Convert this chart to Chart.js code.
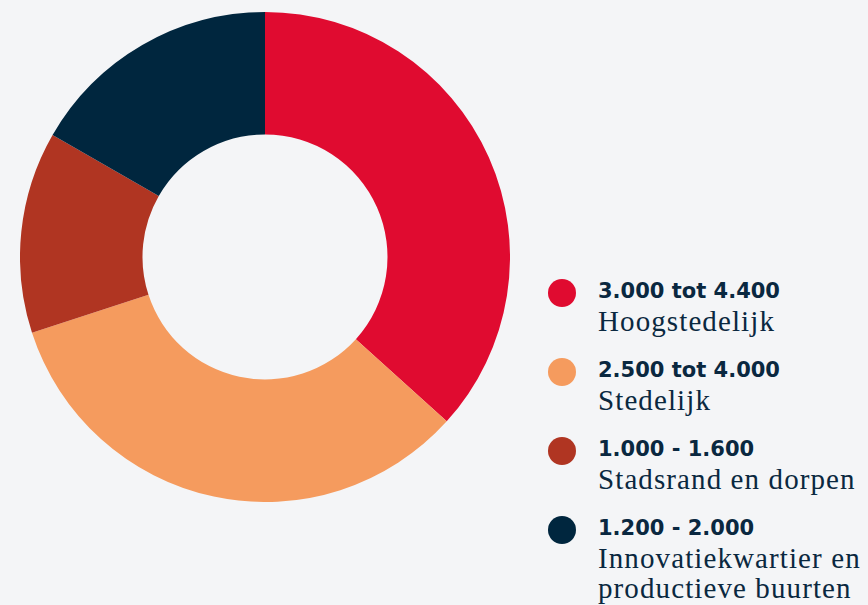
<!DOCTYPE html>
<html>
<head>
<meta charset="utf-8">
<script src="https://cdn.jsdelivr.net/npm/chart.js@4/dist/chart.umd.min.js"></script>
<style>
html,body{margin:0;padding:0;background:#f4f5f7;width:868px;height:605px;overflow:hidden;}
#wrap{position:absolute;left:20px;top:12px;width:490px;height:490px;}
#legend{position:absolute;left:548px;top:279px;color:#0a2840;}
.item{position:relative;height:79px;}
.dot{position:absolute;left:0;top:0;width:28px;height:28px;border-radius:50%;}
.range{position:absolute;left:50px;top:0;font-family:"DejaVu Sans",sans-serif;font-weight:bold;font-size:21px;line-height:24px;white-space:nowrap;}
.name{position:absolute;left:50px;top:27px;font-family:"Liberation Serif",serif;font-size:29px;line-height:30px;letter-spacing:1.1px;white-space:nowrap;}
</style>
</head>
<body>
<div id="wrap"><canvas id="chart"></canvas></div>
<div id="legend"></div>
<script>
// density categories (woningen per km2) and their share of the ring
const ranges = ['3.000 tot 4.400','2.500 tot 4.000','1.000 - 1.600','1.200 - 2.000'];
const names = ['Hoogstedelijk','Stedelijk','Stadsrand en dorpen','Innovatiekwartier en<br>productieve buurten'];
const shares = [36.7, 33.3, 13.3, 16.7];
const colors = ['#e00b30','#f59b5e','#b03522','#00263e'];

function buildLegend(){
const el = document.getElementById('legend');
el.innerHTML = ranges.map((r,i)=>`
<div class="item">
<div class="dot" style="background:${colors[i]}"></div>
<div class="range">${r}</div>
<div class="name">${names[i]}</div>
</div>`).join('');
}

function drawChart(){
const ctx = document.getElementById('chart').getContext('2d');
window.ringChart = new Chart(ctx, {
type:'doughnut',
data:{labels:names.map(n=>n.replace('<br>',' ')), datasets:[{data:shares, backgroundColor:colors, borderWidth:0}]},
options:{responsive:true, maintainAspectRatio:false, animation:false, cutout:'50%',
layout:{padding:0},
plugins:{legend:{display:false}, tooltip:{enabled:false}}}
});
}

buildLegend();
drawChart();
</script>
</body>
</html>
